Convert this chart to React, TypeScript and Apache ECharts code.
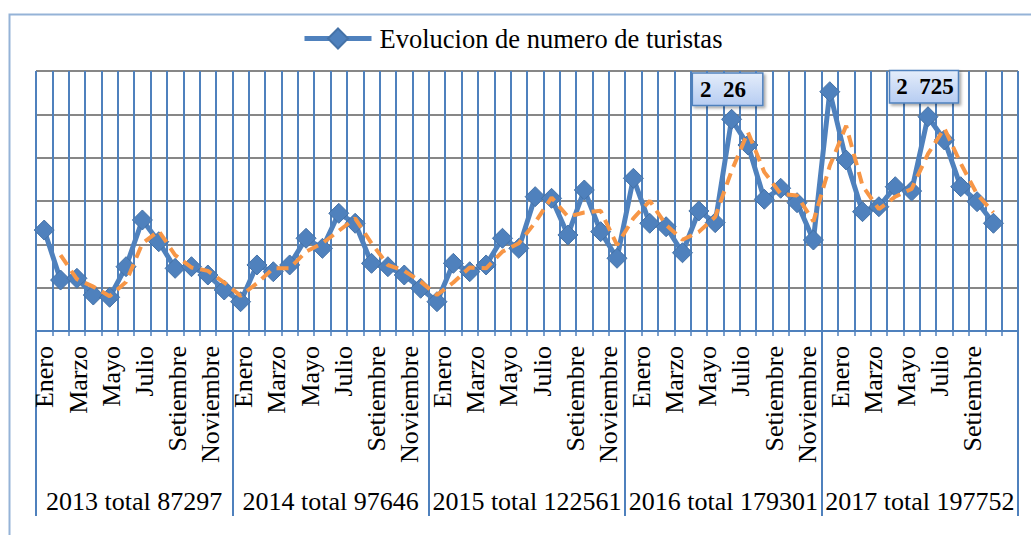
import React, { useEffect, useRef } from "react";
import * as echarts from "echarts";

// ---- data ----
const MONTHS = ["Enero", "Febrero", "Marzo", "Abril", "Mayo", "Junio", "Julio", "Agosto", "Setiembre", "Octubre", "Noviembre", "Diciembre"];
const YEARS = ["2013", "2014", "2015", "2016", "2017"];
const YEAR_TOTALS = [87297, 97646, 122561, 179301, 197752];

const T2013 = [11650, 5880, 6080, 4150, 3890, 7420, 12810, 10300, 7230, 7420, 6460, 4730];
const T2014 = [3380, 7620, 6840, 7620, 10700, 9540, 13580, 12430, 7810, 7420, 6460, 4930];
const T2015 = [3380, 7810, 6840, 7620, 10700, 9540, 15500, 15310, 11080, 16270, 11460, 8390];
const T2016 = [17620, 12430, 12030, 9030, 13850, 12500, 24426, 21460, 15200, 16470, 14800, 10500];
const T2017: (number | null)[] = [27610, 19730, 13770, 14340, 16650, 16150, 24725, 22040, 16650, 14920, 12430, null];

const Y_MIN = 0;
const Y_MAX = 30000;
const Y_INTERVAL = 5000;

// data labels as they are visible in the reference (partly covered)
const PEAK_LABEL_INDEX = [42, 54];
const PEAK_LABEL_TEXT = ["2\u00a0\u00a026", "2\u00a0\u00a0725"];

const SERIES_NAME = "Evolucion de numero de turistas";
const FONT = "'Liberation Serif', 'Times New Roman', serif";
const BLUE = "#4F81BD";

export default function App() {
  const ref = useRef<HTMLDivElement>(null);

  useEffect(() => {
    if (!ref.current) return;
    const chart = echarts.init(ref.current, undefined, { renderer: "svg" });

    const categories: string[] = [];
    YEARS.forEach((y) => MONTHS.forEach((m) => categories.push(m + " " + y)));
    const values: (number | null)[] = [...T2013, ...T2014, ...T2015, ...T2016, ...T2017];
    const yearLabels = YEARS.map((y, i) => y + " total " + YEAR_TOTALS[i]);

    // Excel trendline: 2-period moving average of the series
    const trend = values.map((v, i) =>
      i === 0 || v == null || values[i - 1] == null ? null : ((values[i - 1] as number) + v) / 2
    );

    const pads = [
      [3, 16, 3, 7],
      [3, 4, 3, 6],
    ];
    const lineData = values.map((v, i) => {
      const k = PEAK_LABEL_INDEX.indexOf(i);
      if (k < 0) return v;
      return {
        value: v,
        label: {
          show: true,
          position: "top",
          distance: 4,
          offset: [-4, 0],
          formatter: PEAK_LABEL_TEXT[k],
          fontFamily: FONT,
          fontWeight: "bold",
          fontSize: 23,
          lineHeight: 25,
          color: "#000",
          padding: pads[k],
          backgroundColor: {
            type: "linear",
            x: 0,
            y: 0,
            x2: 0,
            y2: 1,
            colorStops: [
              { offset: 0, color: "#E3ECFA" },
              { offset: 1, color: "#B7CDF2" },
            ],
          },
          borderColor: BLUE,
          borderWidth: 1.5,
          shadowColor: "rgba(0,0,0,0.35)",
          shadowBlur: 3,
          shadowOffsetX: 2,
          shadowOffsetY: 2,
        },
      };
    });

    const option: any = {
      animation: false,
      backgroundColor: "#fff",
      textStyle: { fontFamily: FONT },
      graphic: [
        {
          type: "rect",
          shape: { x: 9.5, y: 14.5, width: 1100, height: 600 },
          style: { fill: "none", stroke: "#95B3D7", lineWidth: 2 },
          z: -1,
          silent: true,
        },
      ],
      legend: {
        data: [SERIES_NAME],
        left: 302,
        top: 25,
        padding: 0,
        itemWidth: 67,
        itemHeight: 25,
        lineStyle: { width: 5 },
        textStyle: { fontFamily: FONT, fontSize: 26.5, color: "#000", padding: [0, 0, 0, 3] },
      },
      grid: [
        { left: 36, top: 71, width: 982, height: 260 },
        { left: 36.6, top: 71, width: 1007, height: 260 },
      ],
      xAxis: [
        {
          type: "category",
          gridIndex: 0,
          data: categories,
          boundaryGap: true,
          axisLine: { show: true, lineStyle: { color: BLUE, width: 2 } },
          axisTick: { show: true, interval: 0, length: 5, lineStyle: { color: BLUE, width: 1.5 } },
          axisLabel: { show: false },
          splitLine: { show: true, interval: 0, lineStyle: { color: BLUE, width: 2 } },
        },
        {
          type: "category",
          gridIndex: 0,
          position: "bottom",
          data: yearLabels,
          boundaryGap: true,
          axisLine: { show: false },
          axisTick: { show: true, interval: 0, length: 185, lineStyle: { color: BLUE, width: 2 } },
          axisLabel: { show: true, interval: 0, margin: 157, fontFamily: FONT, fontSize: 26, color: "#000" },
          splitLine: { show: false },
        },
        {
          type: "category",
          gridIndex: 1,
          position: "bottom",
          data: categories,
          boundaryGap: true,
          axisLine: { show: false },
          axisTick: { show: false },
          splitLine: { show: false },
          axisLabel: {
            show: true,
            rotate: 90,
            margin: 15,
            interval: (index: number) => index % 2 === 0 && index < 58,
            formatter: (val: string) => val.split(" ")[0],
            fontFamily: FONT,
            fontSize: 26,
            color: "#000",
          },
        },
      ],
      yAxis: [
        {
          type: "value",
          gridIndex: 0,
          min: Y_MIN,
          max: Y_MAX,
          interval: Y_INTERVAL,
          axisLine: { show: false },
          axisTick: { show: false },
          axisLabel: { show: false },
          splitLine: { show: true, lineStyle: { color: "#878787", width: 2 } },
        },
        { type: "value", gridIndex: 1, show: false, min: 0, max: 1 },
      ],
      series: [
        {
          name: SERIES_NAME,
          type: "line",
          xAxisIndex: 0,
          yAxisIndex: 0,
          data: lineData,
          symbol: "diamond",
          symbolSize: 20,
          showSymbol: true,
          showAllSymbol: true,
          lineStyle: { color: BLUE, width: 5 },
          itemStyle: { color: BLUE, borderColor: "#4572A7", borderWidth: 1 },
          z: 2,
        },
        {
          name: "Media movil",
          type: "line",
          xAxisIndex: 0,
          yAxisIndex: 0,
          data: trend,
          symbol: "none",
          lineStyle: { color: "#F79646", width: 4, type: [12, 7] },
          z: 3,
        },
      ],
    };

    chart.setOption(option);
    return () => chart.dispose();
  }, []);

  return <div ref={ref} style={{ position: "absolute", left: 0, top: 0, width: 1031, height: 535 }} />;
}
